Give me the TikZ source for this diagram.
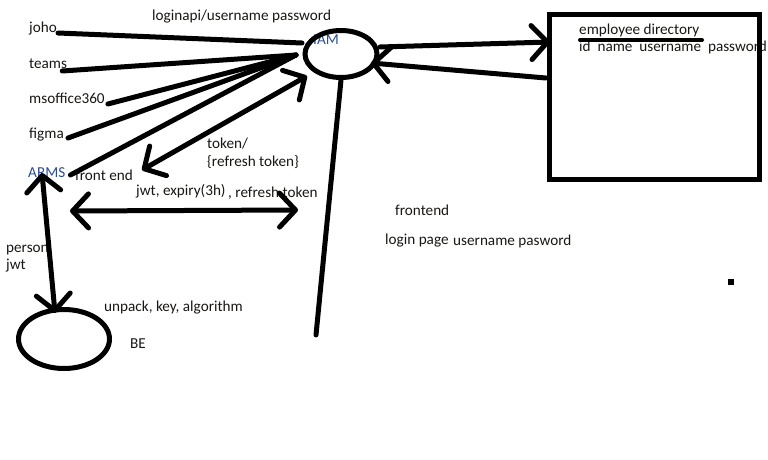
\documentclass[tikz,border=0pt]{standalone}
\usepackage{fontspec}
\setmainfont{Carlito}
\usepackage{tikz}
\usetikzlibrary{arrows.meta, shapes.geometric}
\definecolor{inkdark}{rgb}{0.1,0.09,0.08}
\definecolor{inkblue}{rgb}{0.16,0.3,0.58}

\begin{document}
\begin{tikzpicture}[x=1pt, y=-1pt,
    lbl/.style={anchor=base west, inner sep=0pt, text=inkdark, font=\fontsize{15.2}{18}\selectfont},
    stroke/.style={line width=5pt, line cap=round, line join=round},
    barb/.tip={Straight Barb[length=16pt, width=34pt, round]},
    arrow/.style={stroke, -barb},
    biarrow/.style={stroke, barb-barb},
    bubble/.style={ellipse, draw, line width=5pt, inner sep=0pt}
]
\useasboundingbox (0,0) rectangle (768,460);

% labels
\node[lbl] (loginapi) at (152,21) {loginapi/username password};
\node[lbl] (joho) at (29,33) {joho};
\node[lbl] (teams) at (29,68) {teams};
\node[lbl] (msoffice) at (29,103) {msoffice360};
\node[lbl] (figma) at (29,138) {figma};
\node[lbl, text=inkblue] (arms) at (28,177) {ARMS};
\node[lbl] (frontend) at (75,180) {front end};
\node[lbl, text=inkblue] (iamlbl) at (313,45) {IAM};
\node[lbl] (token) at (207,148) {token/};
\node[lbl] (refresh) at (207,166) {\{refresh token\}};
\node[lbl] (jwtexp) at (136,195) {jwt, expiry(3h)};
\node[lbl] (jwtref) at (228,197) {, refresh token};
\node[lbl] (person) at (6,252) {person};
\node[lbl] (personjwt) at (6,269) {jwt};
\node[lbl] (unpack) at (104,311) {unpack, key, algorithm};
\node[lbl] (belbl) at (130,348) {BE};
\node[lbl] (fe) at (395,215) {frontend};
\node[lbl] (loginpage) at (385,244) {login page};
\node[lbl] (userpw) at (453,245) {username pasword};
\node[lbl] (empdir) at (579,35) {employee directory};
\node[lbl] (fields) at (579,52) {id\ \ name\ \ username\ \ password};

% shapes
\node[bubble, minimum width=72pt, minimum height=47pt] (iam) at (341,54) {};
\node[bubble, minimum width=91pt, minimum height=59pt] (be) at (64,339) {};
\node[draw, line width=5pt, inner sep=0pt, minimum width=210pt, minimum height=165pt, anchor=north west] (dir) at (547,12) {};
\node[fill=black, inner sep=0pt, minimum size=6pt] (dot) at (731,282) {};

% free ends
\coordinate (hubA) at (302,43);
\coordinate (hub) at (296,55);
\coordinate (feTip) at (142,170);
\coordinate (iamTip) at (307,76);
\coordinate (hLeft) at (70,211);
\coordinate (hRight) at (298,210);
\coordinate (armsTip) at (42,173);
\coordinate (beTip) at (55,313);
\coordinate (iamOut) at (380,47);
\coordinate (dirIn) at (550,42);
\coordinate (dirOut) at (546,78);
\coordinate (iamIn) at (371,63);
\coordinate (lineEnd) at (316,335);
\coordinate (ulStart) at (580,40);
\coordinate (ulEnd) at (702,40);

\draw[stroke] ([xshift=1pt]joho.base east) -- (hubA);
\draw[stroke] ([xshift=-5pt,yshift=-3pt]teams.base east) -- (hub);
\draw[stroke] ([xshift=3pt,yshift=-1pt]msoffice.base east) -- (hub);
\draw[stroke] ([xshift=4pt]figma.base east) -- (hub);
\draw[stroke] ([xshift=5pt,yshift=2pt]arms.base east) -- (hub);

\draw[biarrow] (feTip) -- (iamTip);
\draw[biarrow] (hLeft) -- (hRight);
\draw[biarrow] (armsTip) -- (beTip);
\draw[arrow] (iamOut) -- (dirIn);
\draw[arrow] (dirOut) -- (iamIn);
\draw[stroke] (iam.south) -- (lineEnd);
\draw[line width=4pt, line cap=round] (ulStart) -- (ulEnd);

\end{tikzpicture}
\end{document}
